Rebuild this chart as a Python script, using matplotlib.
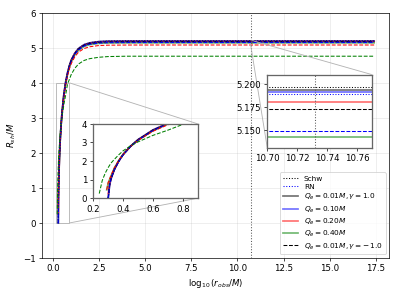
import numpy as np
import matplotlib
matplotlib.use("Agg")
import matplotlib.pyplot as plt
from mpl_toolkits.axes_grid1.inset_locator import mark_inset

nan = np.nan
# log10(r_obs/M) sample points
x_grid = [0.24, 0.26, 0.28, 0.29, 0.30, 0.31, 0.32, 0.34, 0.37, 0.40, 0.45, 0.50,
          0.60, 0.70, 0.80, 0.90, 1.00, 1.20, 1.40, 1.70, 2.00, 2.50, 3.00, 4.00,
          6.00, 10.00, 14.00, 17.40]

r_schw = [nan, nan, nan, nan, 0.0, 0.74, 1.07, 1.52, 1.99, 2.35, 2.80, 3.15, 3.67, 4.03, 4.29,
          4.50, 4.65, 4.86, 4.99, 5.09, 5.144, 5.180, 5.191, 5.1955, 5.1965, 5.1965, 5.1965, 5.1965]
r_rn = [nan, nan, nan, nan, 0.0, 0.74, 1.07, 1.52, 1.98, 2.35, 2.79, 3.14, 3.66, 4.02, 4.28,
        4.49, 4.64, 4.85, 4.98, 5.08, 5.136, 5.173, 5.184, 5.188, 5.1886, 5.1886, 5.1886, 5.1886]
r_q001_gp = [nan, nan, nan, nan, 0.0, 0.74, 1.07, 1.52, 1.99, 2.35, 2.80, 3.15, 3.67, 4.03, 4.29,
             4.49, 4.65, 4.85, 4.98, 5.09, 5.141, 5.177, 5.188, 5.192, 5.193, 5.193, 5.193, 5.193]
r_q010_gp = [nan, nan, nan, nan, 0.0, 0.74, 1.07, 1.52, 1.99, 2.35, 2.80, 3.15, 3.67, 4.03, 4.29,
             4.49, 4.65, 4.85, 4.98, 5.09, 5.139, 5.176, 5.186, 5.190, 5.191, 5.191, 5.191, 5.191]
r_q020_gp = [nan, nan, nan, nan, 0.25, 0.80, 1.10, 1.53, 1.99, 2.35, 2.79, 3.14, 3.66, 4.02, 4.28,
             4.48, 4.64, 4.85, 4.97, 5.08, 5.130, 5.165, 5.176, 5.179, 5.180, 5.180, 5.180, 5.180]
r_q040_gp = [nan, nan, nan, 0.45, 0.82, 1.02, 1.22, 1.60, 2.02, 2.36, 2.79, 3.12, 3.63, 3.99, 4.25,
             4.45, 4.60, 4.81, 4.93, 5.04, 5.090, 5.127, 5.138, 5.141, 5.1417, 5.1417, 5.1417, 5.1417]
r_q001_gm = [nan, nan, nan, nan, 0.0, 0.74, 1.07, 1.51, 1.98, 2.34, 2.79, 3.14, 3.66, 4.01, 4.27,
             4.48, 4.63, 4.84, 4.97, 5.07, 5.120, 5.157, 5.168, 5.172, 5.1725, 5.1725, 5.1725, 5.1725]
r_q010_gm = [nan, nan, nan, nan, 0.0, 0.75, 1.07, 1.51, 1.97, 2.33, 2.78, 3.12, 3.64, 4.00, 4.26,
             4.46, 4.61, 4.82, 4.94, 5.05, 5.100, 5.134, 5.145, 5.148, 5.149, 5.149, 5.149, 5.149]
r_q020_gm = [nan, nan, nan, 0.45, 0.85, 1.05, 1.25, 1.62, 2.03, 2.36, 2.79, 3.11, 3.60, 3.95, 4.21,
             4.40, 4.55, 4.75, 4.88, 4.98, 5.030, 5.065, 5.075, 5.079, 5.080, 5.080, 5.080, 5.080]
r_q040_gm = [0.25, 0.95, 1.35, 1.50, 1.65, 1.78, 1.90, 2.08, 2.33, 2.55, 2.82, 3.03, 3.38, 3.66, 3.97,
             4.10, 4.24, 4.42, 4.54, 4.64, 4.690, 4.730, 4.750, 4.760, 4.760, 4.760, 4.760, 4.760]

x_marker = 10.732

labels = ["Schw", "RN", r"$Q_e = 0.01M, \gamma = 1.0$", r"$Q_e = 0.10M$", r"$Q_e = 0.20M$",
          r"$Q_e = 0.40M$", r"$Q_e = 0.01M, \gamma = -\,1.0$"]


def draw(ax):
    h = {}
    h['q001gp'], = ax.plot(x_grid, r_q001_gp, color='k', lw=2, alpha=0.55)
    h['q010gp'], = ax.plot(x_grid, r_q010_gp, color='blue', lw=2, alpha=0.55)
    h['q020gp'], = ax.plot(x_grid, r_q020_gp, color='red', lw=2, alpha=0.55)
    h['q040gp'], = ax.plot(x_grid, r_q040_gp, color='green', lw=2, alpha=0.55)
    h['q001gm'], = ax.plot(x_grid, r_q001_gm, color='k', lw=1.2, ls='--')
    ax.plot(x_grid, r_q010_gm, color='blue', lw=1.2, ls='--')
    ax.plot(x_grid, r_q020_gm, color='red', lw=1.2, ls='--')
    ax.plot(x_grid, r_q040_gm, color='green', lw=1.2, ls='--')
    h['schw'], = ax.plot(x_grid, r_schw, color='k', lw=1.2, ls=':')
    h['rn'], = ax.plot(x_grid, r_rn, color='blue', lw=1.2, ls=':')
    ax.axvline(x_marker, color='0.35', ls=':', lw=1.2)
    return h


fig = plt.figure(figsize=(6.4, 4.8), dpi=399 / 6.4)
ax = fig.add_axes([0.1045, 0.137, 0.8712, 0.8195])
h = draw(ax)
ax.set_xlim(-0.6, 18.22)
ax.set_ylim(-1, 6)
ax.grid(True, alpha=0.3)
ax.set_xlabel(r"$\log_{10}(r_{obs}/M)$")
ax.set_ylabel(r"$R_{sh}/M$", labelpad=6)
handles = [h['schw'], h['rn'], h['q001gp'], h['q010gp'], h['q020gp'], h['q040gp'], h['q001gm']]
ax.legend(handles, labels, loc='lower right', fontsize=8.6, labelspacing=0.28,
          handlelength=2.0, borderaxespad=0.5)

# inset 1
ax1 = fig.add_axes([0.2338, 0.3368, 0.2617, 0.2485])
draw(ax1)
ax1.set_xlim(0.2, 0.9)
ax1.set_ylim(0, 4)
ax1.set_xticks([0.2, 0.4, 0.6, 0.8])
ax1.set_yticks([0, 1, 2, 3, 4])
for s in ax1.spines.values():
    s.set_color('0.4')
    s.set_linewidth(1.5)
mark_inset(ax, ax1, loc1=1, loc2=4, fc='none', ec='0.7')

# inset 2
ax2 = fig.add_axes([0.670, 0.504, 0.2617, 0.246])
draw(ax2)
ax2.set_xlim(10.70, 10.77)
ax2.set_ylim(5.13, 5.21)
ax2.set_xticks([10.70, 10.72, 10.74, 10.76])
ax2.set_yticks([5.150, 5.175, 5.200])
ax2.yaxis.set_major_formatter(matplotlib.ticker.FormatStrFormatter('%.3f'))
ax2.xaxis.set_major_formatter(matplotlib.ticker.FormatStrFormatter('%.2f'))
for s in ax2.spines.values():
    s.set_color('0.4')
    s.set_linewidth(1.5)
mark_inset(ax, ax2, loc1=1, loc2=3, fc='none', ec='0.7')

fig.savefig("out.png")
